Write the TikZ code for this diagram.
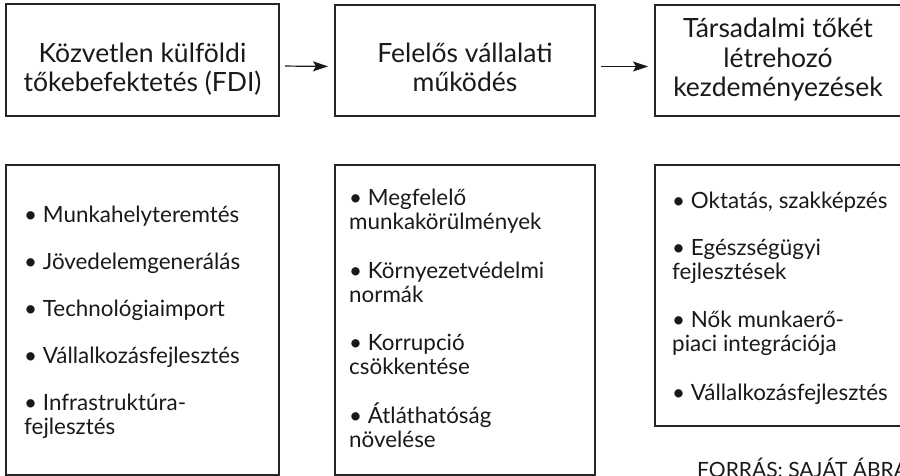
\documentclass[tikz,border=0pt]{standalone}
\usepackage{fontspec}
\setmainfont{Lato}
\usetikzlibrary{arrows.meta}
\begin{document}
\begin{tikzpicture}[x=1pt,y=-1pt,
  box/.style={draw=black!85, line width=1.1pt, inner sep=0pt, outer sep=0pt},
  head/.style={font=\fontsize{26.5}{29.5}\selectfont, align=center, text=black!90, inner sep=0pt},
  item/.style={font=\fontsize{22.4}{24}\selectfont, align=left, anchor=base west, text=black!90, inner sep=0pt},
  conn/.style={-{Stealth[length=15pt,width=10pt,inset=3pt]}, line width=1.2pt, draw=black!90, shorten <=6pt, shorten >=7pt}]
\useasboundingbox (0,0) rectangle (900,476);
% top boxes
\node[box, minimum width=273pt, minimum height=112pt] (b1) at (142.5,60) {};
\node[box, minimum width=260pt, minimum height=111pt] (b2) at (465,60.5) {};
\node[box, minimum width=246pt, minimum height=111pt] (b3) at (778,60.5) {};
\node[head, anchor=base] (t1) at (142.5,92) {Közvetlen külföldi\\tőkebefektetés (FDI)};
\node[head, anchor=base] (t2) at (465,92) {Felelős vállalati\\működés};
\node[head, anchor=base] (t3) at (778,97) {Társadalmi tőkét\\létrehozó\\kezdeményezések};
\draw[conn] ([yshift=-6pt]b1.east) -- ([yshift=-6pt]b2.west);
\draw[conn] ([yshift=-6pt]b2.east) -- ([yshift=-6pt]b3.west);
% bottom boxes
\node[box, minimum width=273pt, minimum height=310pt] (c1) at (142.5,320) {};
\node[box, minimum width=260pt, minimum height=310pt] (c2) at (465,320) {};
\node[box, minimum width=246pt, minimum height=261pt] (c3) at (778,295.5) {};
\node[item] (l1) at (24,434) {• Munkahelyteremtés\\[23pt]• Jövedelemgenerálás\\[23pt]• Technológiaimport\\[23pt]• Vállalkozásfejlesztés\\[23pt]• Infrastruktúra-\\fejlesztés};
\node[item] (l2) at (349,447) {• Megfelelő\\munkakörülmények\\[25pt]• Környezetvédelmi\\normák\\[24pt]• Korrupció\\csökkentése\\[25pt]• Átláthatóság\\növelése};
\node[item] (l3) at (672,400) {• Oktatás, szakképzés\\[23pt]• Egészségügyi\\fejlesztések\\[24pt]• Nők munkaerő-\\piaci integrációja\\[25pt]• Vállalkozásfejlesztés};
\node[font=\fontsize{21}{24}\selectfont, anchor=base west, text=black!90, inner sep=0pt] (src) at (697,477) {FORRÁS: SAJÁT ÁBRA};
\end{tikzpicture}
\end{document}
